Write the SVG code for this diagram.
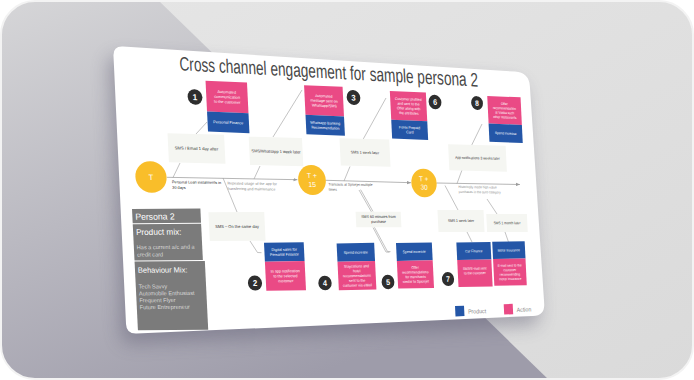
<svg xmlns="http://www.w3.org/2000/svg" width="694" height="380" viewBox="0 0 694 380">
<style>
text{font-family:"Liberation Sans",Arial,sans-serif}
.pk{fill:#ea4a85}
.bl{fill:#2456a7}
.lb{fill:#f5f6f2}
.badge{fill:#2e2e2e}
.bn{font-size:9px;fill:#fff;text-anchor:middle;font-weight:bold}
.nt{font-size:4.2px;fill:#fff;text-anchor:middle}
.lt{font-size:4.4px;fill:#333;text-anchor:middle}
.yc{fill:#f9be2a}
.yt{font-size:8px;fill:#fff;text-anchor:middle}
.tl{font-size:4px}
.pt{fill:#fff}
.ps{fill:#d9d9d9;font-size:5.8px}
.lg{font-size:7px;fill:#8a8a8a}
.conn line,.conn polyline{stroke:#9a9a9a;stroke-width:.6;fill:none}
.conn .axis{stroke:#a3a3a3;stroke-width:.8}
</style>
<defs>
<linearGradient id="bgL" x1="0" y1="0" x2="0.55" y2="1">
<stop offset="0" stop-color="#d6d6d8"/><stop offset="1" stop-color="#9e9caa"/>
</linearGradient>
<linearGradient id="bgR" x1="0" y1="0" x2="1" y2="1">
<stop offset="0" stop-color="#e6e6e6"/><stop offset="1" stop-color="#dadada"/>
</linearGradient>
<clipPath id="frame"><rect x="1" y="1" width="692" height="378" rx="34"/></clipPath>
<filter id="sh" x="-20%" y="-20%" width="140%" height="140%"><feGaussianBlur stdDeviation="9"/></filter>
<marker id="ah" viewBox="0 0 6 6" refX="6" refY="3" markerWidth="4" markerHeight="4" orient="auto" markerUnits="userSpaceOnUse"><path d="M0,0.5 L6,3 L0,5.5 z" fill="#9c9c9c"/></marker>
</defs>
<rect width="694" height="380" fill="#fff"/>
<g clip-path="url(#frame)">
<rect width="694" height="380" fill="url(#bgR)"/>
<polygon points="0,0 158,0 549,380 0,380" fill="url(#bgL)"/>
<path d="M123,46.6 L515,71.6 Q529,72.5 529.9,86.5 L544.2,303.5 Q545,315.5 533,316 L136.5,333.6 Q126.5,334 126,324 L113.5,56 Q113,46 123,46.6 Z" fill="#55536a" opacity="0.4" filter="url(#sh)" transform="translate(-5,10)"/>
</g>
<rect x="1" y="1" width="692" height="378" rx="34" fill="none" stroke="#f3f3f3" stroke-width="2"/>
<path id="slide" d="M123,46.6 L515,71.6 Q529,72.5 529.9,86.5 L544.2,303.5 Q545,315.5 533,316 L136.5,333.6 Q126.5,334 126,324 L113.5,56 Q113,46 123,46.6 Z" fill="#fff"/>

<g id="title" transform="matrix(0.8479 0.0465 0.045 0.9223 329 78.4)">
<text x="0" y="0" font-size="21" fill="#474747" text-anchor="middle" textLength="352" lengthAdjust="spacingAndGlyphs">Cross channel engagement for sample persona 2</text>
</g>

<g id="connectors" class="conn">
<line class="axis" x1="167" y1="177.3" x2="297.5" y2="179.7" marker-end="url(#ah)"/>
<line class="axis" x1="326" y1="180.3" x2="411" y2="182.7" marker-end="url(#ah)"/>
<line class="axis" x1="436.5" y1="183" x2="520" y2="184.5" marker-end="url(#ah)"/>
<line x1="207" y1="122" x2="196" y2="134"/>
<line x1="180" y1="163" x2="173" y2="177.5"/>
<line x1="302" y1="90" x2="273" y2="137"/>
<line x1="260" y1="166" x2="254" y2="179"/>
<line x1="386" y1="98" x2="363" y2="139.5"/>
<line x1="350" y1="166.5" x2="344" y2="181"/>
<line x1="482" y1="124" x2="471" y2="146.5"/>
<line x1="462" y1="170" x2="457" y2="183.5"/>
<line x1="223" y1="178" x2="237" y2="212"/>
<polyline points="250,241 257.5,252.5 261.5,252.7"/>
<line x1="359" y1="190" x2="371.5" y2="212"/>
<line x1="360.6" y1="189.6" x2="373" y2="211.5"/>
<polyline points="373,227.5 386,252 389.5,252.3"/>
<polyline points="374.4,227.2 387.4,251.4 390.5,251.6"/>
<line x1="445" y1="185.5" x2="458" y2="210"/>
<line x1="467" y1="232" x2="472" y2="242"/>
<line x1="487" y1="199" x2="497" y2="214"/>
<line x1="505" y1="232" x2="508.5" y2="242"/>
</g>

<g id="t0" transform="matrix(0.9747 0.0153 0.0483 0.9888 151 177)">
<circle class="yc" r="16"/><text class="yt" y="3">T</text>
</g>
<g id="t15" transform="matrix(0.8638 0.0134 0.0454 0.9309 312 180)">
<circle class="yc" r="16"/><text class="yt" y="-2">T +</text><text class="yt" y="7.5">15</text>
</g>
<g id="t30" transform="matrix(0.7906 0.0118 0.0435 0.8906 424 183)">
<circle class="yc" r="16"/><text class="yt" y="-2">T +</text><text class="yt" y="7.5">30</text>
</g>

<g id="tl1" transform="matrix(0.9599 0.0130 0.0479 0.9813 172 183.3)">
<text class="tl" fill="#222"><tspan x="0" y="0">Personal Loan instalments in</tspan><tspan x="0" y="5.6">30 days</tspan></text>
</g>
<g id="tl2" transform="matrix(0.9215 0.0128 0.0469 0.9615 227.5 184.5)">
<text class="tl" fill="#8a8a8a"><tspan x="0" y="0">Repeated usage of the app for</tspan><tspan x="0" y="5.6">transferring and maintenance</tspan></text>
</g>
<g id="tl3" transform="matrix(0.8512 0.0119 0.0451 0.9241 328.5 185.5)">
<text class="tl" fill="#555"><tspan x="0" y="0">Transacts at Spicejet multiple</tspan><tspan x="0" y="5.6">times</tspan></text>
</g>
<g id="tl4" transform="matrix(0.7691 0.0107 0.0429 0.8784 458.5 188)">
<text class="tl" fill="#8a8a8a"><tspan x="0" y="0">Historically made high value</tspan><tspan x="0" y="5.6">purchases in the auto category</tspan></text>
</g>

<g id="label1" transform="matrix(0.9427 0.0249 0.0475 0.9725 196.5 148.5)">
<rect class="lb" x="-30" y="-15" width="60" height="30"/><text class="lt" y="1.5">SMS / Email 1 day after</text>
</g>
<g id="label2" transform="matrix(0.8881 0.0232 0.0461 0.9439 276 151.5)">
<rect class="lb" x="-30" y="-15" width="60" height="30"/><text class="lt" y="1.5">SMS/Whatsapp 1 week later</text>
</g>
<g id="label3" transform="matrix(0.8288 0.0221 0.0445 0.9118 365 152.5)">
<rect class="lb" x="-30" y="-15" width="60" height="30"/><text class="lt" y="1.5">SMS 1 week later</text>
</g>
<g id="label4" transform="matrix(0.7571 0.0197 0.0425 0.8715 477.5 158)">
<rect class="lb" x="-38" y="-15" width="76" height="30"/><text class="lt" y="1.5">App notifications 3 weeks later</text>
</g>
<g id="label5" transform="matrix(0.9147 -0.0022 0.0467 0.9579 237 226.5)">
<rect class="lb" x="-30.5" y="-15" width="61" height="30"/><text class="lt" y="1.5">SMS – On the same day</text>
</g>
<g id="label6" transform="matrix(0.8200 0.0002 0.0443 0.9070 378.5 219.5)">
<rect class="lb" x="-27.5" y="-8.5" width="55" height="17"/><text class="lt"><tspan x="0" y="-1.2">SMS 60 minutes from</tspan><tspan x="0" y="4.2">purchase</tspan></text>
</g>
<g id="label7" transform="matrix(0.7672 -0.0003 0.0428 0.8773 461 221)">
<rect class="lb" x="-30" y="-12.5" width="60" height="25"/><text class="lt" y="1.5">SMS 1 week later</text>
</g>
<g id="label8" transform="matrix(0.7385 -0.0009 0.0420 0.8607 507 223)">
<rect class="lb" x="-27.5" y="-10.5" width="55" height="21"/><text class="lt" y="1.5">SMS 1 month later</text>
</g>

<g id="node1" transform="matrix(0.9212 0.0390 0.0469 0.9613 227.5 107)">
<circle class="badge" cx="-34.8" cy="-9" r="8"/><text class="bn" x="-34.8" y="-5.8">1</text>
<rect class="pk" x="-22.5" y="-26.5" width="45" height="32"/>
<rect class="bl" x="-22.5" y="5.5" width="45" height="21"/>
<text class="nt"><tspan x="0" y="-14.2">Automated</tspan><tspan x="0" y="-9">communication</tspan><tspan x="0" y="-3.8">to the customer</tspan></text>
<text class="nt" x="0" y="17.5">Personal Finance</text>
</g>
<g id="node3" transform="matrix(0.8555 0.0364 0.0452 0.9264 324.5 110.5)">
<circle class="badge" cx="34.7" cy="-15.4" r="8"/><text class="bn" x="34.7" y="-12.2">3</text>
<rect class="pk" x="-22.5" y="-26.5" width="45" height="32"/>
<rect class="bl" x="-22.5" y="5.5" width="45" height="21"/>
<text class="nt"><tspan x="0" y="-14.2">Automated</tspan><tspan x="0" y="-9">message sent on</tspan><tspan x="0" y="-3.8">Whatsapp/SMS</tspan></text>
<text class="nt"><tspan x="0" y="14.9">Whatsapp Banking</tspan><tspan x="0" y="20.1">Recommendation</tspan></text>
</g>
<g id="node6" transform="matrix(0.8003 0.0336 0.0437 0.8960 409 115.5)">
<circle class="badge" cx="33.4" cy="-16.3" r="8"/><text class="bn" x="33.4" y="-13.1">6</text>
<rect class="pk" x="-22.5" y="-26.5" width="45" height="32"/>
<rect class="bl" x="-22.5" y="5.5" width="45" height="21"/>
<text class="nt"><tspan x="0" y="-16.8">Customer profiled</tspan><tspan x="0" y="-11.6">and sent to the</tspan><tspan x="0" y="-6.4">Offer along with</tspan><tspan x="0" y="-1.2">the attributes</tspan></text>
<text class="nt"><tspan x="0" y="14.9">Forex Prepaid</tspan><tspan x="0" y="20.1">Card</tspan></text>
</g>
<g id="node8" transform="matrix(0.7398 0.0311 0.0420 0.8615 505 119.5)">
<circle class="badge" cx="-36.8" cy="-17.8" r="8"/><text class="bn" x="-36.8" y="-14.6">8</text>
<rect class="pk" x="-22.5" y="-26.5" width="45" height="32"/>
<rect class="bl" x="-22.5" y="5.5" width="45" height="21"/>
<text class="nt"><tspan x="0" y="-16.8">Offer</tspan><tspan x="0" y="-11.6">recommendation</tspan><tspan x="0" y="-6.4">at Vatika such</tspan><tspan x="0" y="-1.2">other restaurants</tspan></text>
<text class="nt" x="0" y="17.5">Spend increase</text>
</g>

<g id="node2" transform="matrix(0.8820 -0.0157 0.0459 0.9406 285 266.5)">
<circle class="badge" cx="-34.9" cy="17" r="8"/><text class="bn" x="-34.9" y="20.2">2</text>
<rect class="bl" x="-22.5" y="-25.5" width="45" height="20"/>
<rect class="pk" x="-22.5" y="-5.5" width="45" height="31"/>
<text class="nt"><tspan x="0" y="-16.6">Digital sales for</tspan><tspan x="0" y="-11.4">Personal Finance</tspan></text>
<text class="nt"><tspan x="0" y="6.3">In app notification</tspan><tspan x="0" y="11.5">to the selected</tspan><tspan x="0" y="16.7">customer</tspan></text>
</g>
<g id="node4" transform="matrix(0.8344 -0.0153 0.0446 0.9149 356.5 266.5)">
<circle class="badge" cx="-38.7" cy="17.4" r="8"/><text class="bn" x="-38.7" y="20.6">4</text>
<rect class="bl" x="-22.5" y="-25.5" width="45" height="20"/>
<rect class="pk" x="-22.5" y="-5.5" width="45" height="31"/>
<text class="nt" x="0" y="-14">Spend increase</text>
<text class="nt"><tspan x="0" y="1.1">Staycations and</tspan><tspan x="0" y="6.3">hotel</tspan><tspan x="0" y="11.5">recommendations</tspan><tspan x="0" y="16.7">sent to the</tspan><tspan x="0" y="21.9">customer via eMail</tspan></text>
</g>
<g id="node5" transform="matrix(0.7964 -0.0146 0.0436 0.8938 415 265.5)">
<circle class="badge" cx="-34.9" cy="17.9" r="8"/><text class="bn" x="-34.9" y="21.1">5</text>
<rect class="bl" x="-22.5" y="-25.5" width="45" height="20"/>
<rect class="pk" x="-22.5" y="-5.5" width="45" height="31"/>
<text class="nt" x="0" y="-14">Spend increase</text>
<text class="nt"><tspan x="0" y="3.7">Offer</tspan><tspan x="0" y="8.9">recommendations</tspan><tspan x="0" y="14.1">for merchants</tspan><tspan x="0" y="19.3">similar to Spicejet</tspan></text>
</g>
<g id="node7" transform="matrix(0.7587 -0.0139 0.0426 0.8724 474.5 264.5)">
<circle class="badge" cx="-35.8" cy="16.1" r="8"/><text class="bn" x="-35.8" y="19.3">7</text>
<rect class="bl" x="-22.5" y="-25.5" width="45" height="20"/>
<rect class="pk" x="-22.5" y="-5.5" width="45" height="31"/>
<text class="nt" x="0" y="-14">Car Finance</text>
<text class="nt"><tspan x="0" y="6">SMS/E-mail sent</tspan><tspan x="0" y="11.2">to the customer</tspan></text>
</g>
<g id="node9" transform="matrix(0.7370 -0.0134 0.0420 0.8598 509.5 263.5)">
<rect class="bl" x="-22" y="-25.5" width="44" height="20"/>
<rect class="pk" x="-22" y="-5.5" width="44" height="31"/>
<text class="nt" x="0" y="-14">Motor Insurance</text>
<text class="nt"><tspan x="0" y="3.7">E-mail sent to the</tspan><tspan x="0" y="8.9">customer</tspan><tspan x="0" y="14.1">recommending</tspan><tspan x="0" y="19.3">motor insurance</tspan></text>
</g>

<g id="persona" transform="matrix(0.9627 -0.008 0.048 0.9827 132 209)">
<rect x="0" y="0" width="71" height="14.5" fill="#7b7b7b"/>
<rect x="0" y="15.5" width="71" height="37" fill="#7b7b7b"/>
<rect x="0" y="53.5" width="73" height="70" fill="#7b7b7b"/>
<text class="pt" x="3" y="11" font-size="9">Persona 2</text>
<text class="pt" x="3" y="26.5" font-size="8.5">Product mix:</text>
<text class="ps"><tspan x="3" y="41">Has a current a/c and a</tspan><tspan x="3" y="48.5">credit card</tspan></text>
<text class="pt" x="3" y="65" font-size="7.8">Behaviour Mix:</text>
<text class="ps"><tspan x="3" y="81">Tech Savvy</tspan><tspan x="3" y="88">Automobile Enthusiast</tspan><tspan x="3" y="95">Frequent Flyer</tspan><tspan x="3" y="102">Future Entrepreneur</tspan></text>
</g>

<g id="legend" transform="matrix(0.7491 -0.0283 0.0423 0.8669 455 306)">
<rect class="bl" x="0" y="0" width="12" height="12"/>
<text class="lg" x="17" y="9.5">Product</text>
<rect class="pk" x="65" y="0" width="12" height="12"/>
<text class="lg" x="82" y="9.5">Action</text>
</g>
</svg>
